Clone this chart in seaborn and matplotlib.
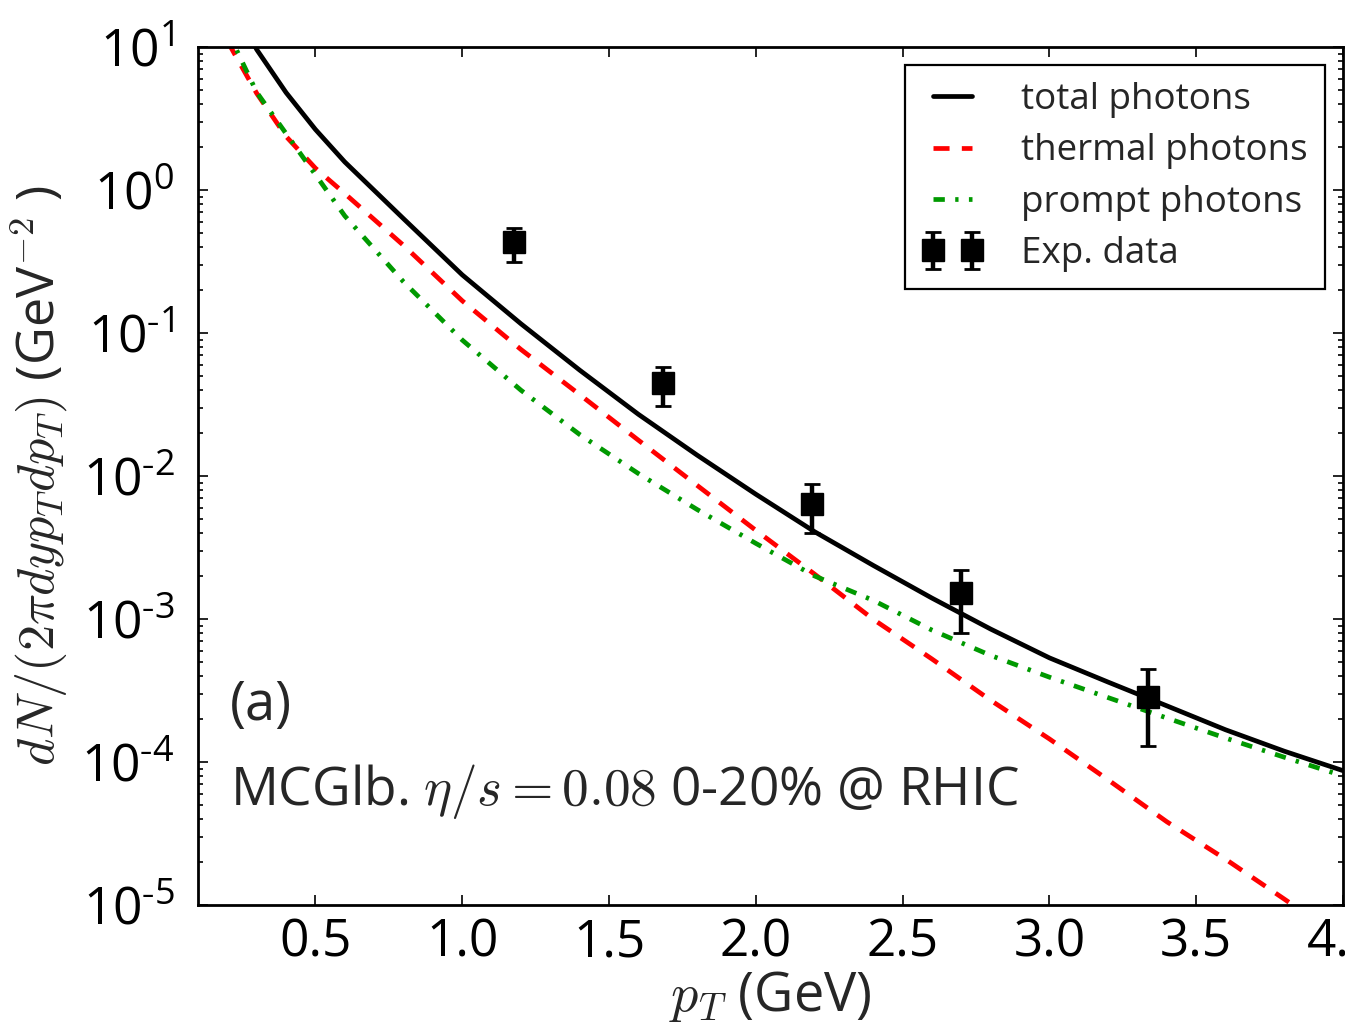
import numpy as np
import pandas as pd
import matplotlib
matplotlib.use("Agg")
import matplotlib.pyplot as plt
import seaborn as sns
from matplotlib.ticker import FixedLocator, FixedFormatter, LogLocator, NullFormatter

# Photon spectra vs transverse momentum (GeV)
pt_grid = [0.2, 0.3, 0.4, 0.5, 0.6, 0.8, 1.0, 1.2, 1.4, 1.6, 1.8, 2.0,
           2.2, 2.4, 2.6, 2.8, 3.0, 3.2, 3.4, 3.6, 3.8, 4.0]
total_photons = [24.0, 9.6, 4.8, 2.65, 1.57, 0.63, 0.255, 0.116, 0.055, 0.027,
                 0.0140, 7.46e-3, 4.08e-3, 2.37e-3, 1.40e-3, 8.5e-4, 5.35e-4,
                 3.62e-4, 2.47e-4, 1.68e-4, 1.19e-4, 8.7e-5]
thermal_photons = [11.0, 4.74, 2.37, 1.42, 0.944, 0.41, 0.168, 0.0767, 0.0371,
                   0.0178, 8.6e-3, 4.17e-3, 2.06e-3, 9.95e-4, 5.25e-4, 2.70e-4,
                   1.45e-4, 7.5e-5, 3.82e-5, 2.09e-5, 1.10e-5, 5.75e-6]
prompt_photons = [13.0, 4.82, 2.48, 1.28, 0.659, 0.228, 0.0893, 0.0398, 0.0195,
                  0.0104, 5.83e-3, 3.38e-3, 2.0e-3, 1.35e-3, 8.36e-4, 5.56e-4,
                  3.92e-4, 2.82e-4, 2.03e-4, 1.47e-4, 1.08e-4, 8.0e-5]

# Measured yields with lower / upper error-bar ends
exp_pt = [1.175, 1.683, 2.191, 2.698, 3.335]
exp_val = [0.433, 0.0444, 0.00634, 0.00151, 2.86e-4]
exp_low = [0.312, 0.0309, 0.00397, 7.94e-4, 1.30e-4]
exp_high = [0.545, 0.058, 0.00875, 2.20e-3, 4.45e-4]

ytick_vals = [1e-5, 1e-4, 1e-3, 1e-2, 1e-1, 1e0, 1e1]
ytick_labels = [r"$\mathregular{10^{\text{-}5}}$", r"$\mathregular{10^{\text{-}4}}$",
                r"$\mathregular{10^{\text{-}3}}$", r"$\mathregular{10^{\text{-}2}}$",
                r"$\mathregular{10^{\text{-}1}}$", r"$\mathregular{10^{0}}$",
                r"$\mathregular{10^{1}}$"]
xtick_vals = [0.5, 1.0, 1.5, 2.0, 2.5, 3.0, 3.5, 4.0]
xtick_labels = ["0.5", "1.0", "1.5", "2.0", "2.5", "3.0", "3.5", "4.0"]

sns.set_style("ticks")
plt.rcParams["font.family"] = ["Open Sans", "DejaVu Sans"]
plt.rcParams["mathtext.fontset"] = "cm"
plt.rcParams["axes.unicode_minus"] = False

df = pd.DataFrame({"pt": pt_grid, "total": total_photons,
                   "thermal": thermal_photons, "prompt": prompt_photons})

fig = plt.figure(figsize=(13.45, 10.29), dpi=100)
ax = fig.add_axes([198 / 1345, 1 - 905 / 1029, 1145 / 1345, 858 / 1029])

lw = 3.4
sns.lineplot(data=df, x="pt", y="total", ax=ax, color="black", lw=lw,
             errorbar=None, label="total photons", zorder=3)
sns.lineplot(data=df, x="pt", y="thermal", ax=ax, color="#ff0000", lw=lw,
             linestyle=(0, (3.4, 2.6)), errorbar=None,
             label="thermal photons", zorder=2)
sns.lineplot(data=df, x="pt", y="prompt", ax=ax, color="#009900", lw=lw,
             linestyle=(0, (2.4, 2.2, 0.7, 2.2)), errorbar=None,
             label="prompt photons", zorder=2)

yerr = [np.array(exp_val) - np.array(exp_low), np.array(exp_high) - np.array(exp_val)]
ax.errorbar(exp_pt, exp_val, yerr=yerr, fmt="s", color="black", ms=15.5,
            mec="black", elinewidth=3.2, capsize=6, capthick=2,
            label="Exp. data", zorder=5)

ax.set_yscale("log")
ax.set_xlim(0.1, 4.0)
ax.set_ylim(1e-5, 1e1)

ax.yaxis.set_major_locator(FixedLocator(ytick_vals))
ax.yaxis.set_major_formatter(FixedFormatter(ytick_labels))
ax.yaxis.set_minor_locator(LogLocator(base=10, subs=np.arange(2, 10), numticks=20))
ax.yaxis.set_minor_formatter(NullFormatter())
ax.xaxis.set_major_locator(FixedLocator(xtick_vals))
ax.xaxis.set_major_formatter(FixedFormatter(xtick_labels))

ax.tick_params(which="both", direction="in", top=True, right=True, width=1.2,
               colors="black")
ax.tick_params(which="major", length=7, labelsize=37)
ax.tick_params(which="minor", length=3.5)
ax.tick_params(axis="x", which="major", pad=9)
ax.tick_params(axis="y", which="major", pad=17)
for sp in ax.spines.values():
    sp.set_linewidth(2.0)
    sp.set_color("black")

ax.set_xlabel(r"$p_T$ (GeV)", fontsize=39, labelpad=0)
ax.set_ylabel(r"$dN/(2\pi dyp_Tdp_T)$ (GeV$^{-2}$ )", fontsize=37.5, labelpad=8)

ax.text(0.028, 0.216, "(a)", transform=ax.transAxes, fontsize=39,
        va="baseline", ha="left")
ax.text(0.028, 0.1166, r"MCGlb. $\eta/s=0.08$ 0-20% @ RHIC",
        transform=ax.transAxes, fontsize=38.3, va="baseline", ha="left")

leg = ax.legend(loc="upper right", fontsize=26.5, numpoints=2, frameon=True,
                fancybox=False, framealpha=1, edgecolor="black",
                handlelength=1.65, handletextpad=1.05, labelspacing=0.42,
                borderpad=0.45, borderaxespad=0.5)
leg.get_frame().set_linewidth(1.6)

fig.savefig("out.png", dpi=100)
